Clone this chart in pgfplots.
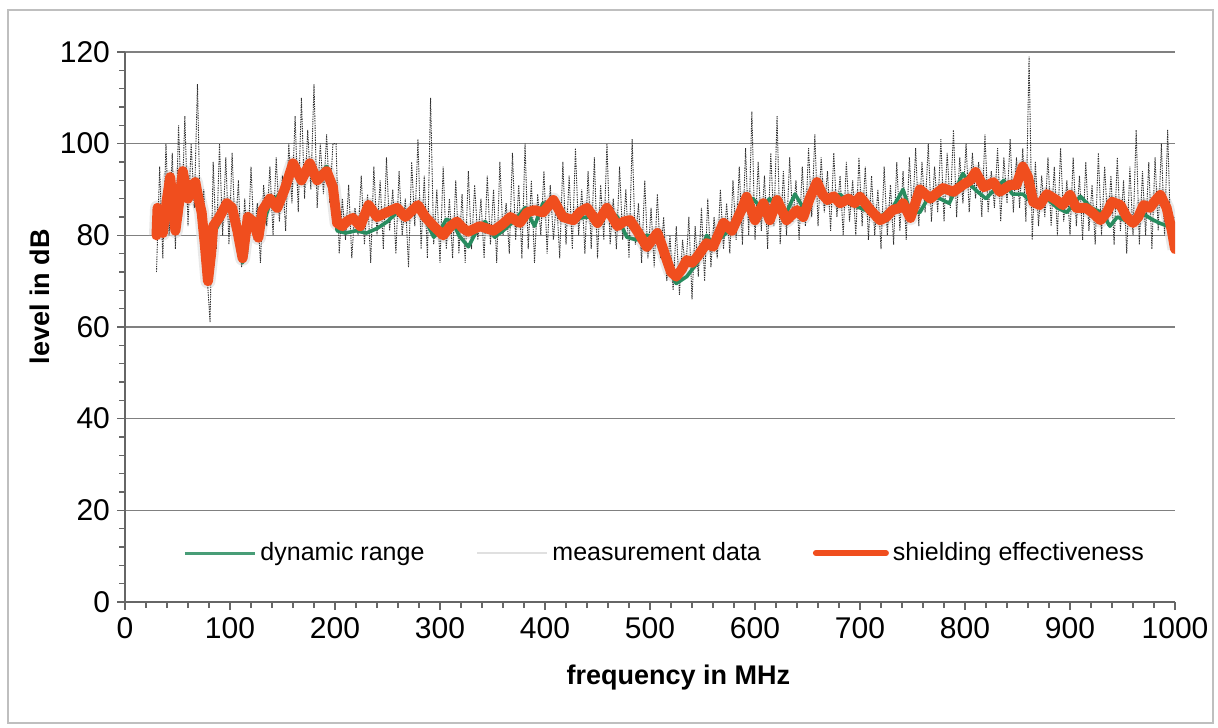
\documentclass[border=0pt]{standalone}
\usepackage{fontspec}
\setmainfont{Liberation Sans}
\usepackage{pgfplots}
\usepackage{pgfplotstable}
\pgfplotsset{compat=1.18}

\definecolor{seorange}{RGB}{240,78,30}
\definecolor{drgreen}{RGB}{40,140,95}

% shielding effectiveness (smoothed)
\pgfplotstableread[row sep=\\]{
x y\\
30 80\\ 31 86\\ 34 83\\ 36 80.5\\ 40 88\\ 43 92.7\\ 46 86\\ 48 81\\ 52 88\\ 55 94\\
60 88\\ 64 91\\ 67 91.6\\ 70 88\\ 73 85\\ 76 78\\ 79 70\\ 82 76\\ 84 82\\ 90 84\\
97 87\\ 102 86\\ 107 81\\ 112 75\\ 117 84\\ 122 83\\ 127 79.5\\ 131 85.5\\ 138 88\\ 145 86\\
152 90\\ 160 95.7\\ 168 92\\ 176 95.7\\ 183 92\\ 192 94\\ 198 90.5\\ 202 82.7\\ 207 82\\ 211 83\\
217 83.8\\ 224 82\\ 232 86.6\\ 240 84\\ 249 85\\ 259 86\\ 267 84\\ 279 86.6\\ 286 84\\ 294 82\\
303 80\\ 310 82\\ 316 83\\ 322 81.5\\ 327 80.8\\ 338 82\\ 351 81\\ 360 82.5\\ 367 84\\ 376 82.7\\
383 85\\ 390 85.5\\ 398 85\\ 408 87.7\\ 417 84\\ 427 83.3\\ 433 85\\ 440 86\\ 450 82.7\\ 459 86\\
469 82\\ 475 83\\ 481 83.3\\ 489 80.5\\ 497 77.5\\ 507 80.5\\ 511 78\\ 516 74.6\\ 520 72\\ 525 71\\
530 72.5\\ 535 74.6\\ 540 74\\ 545 75.3\\ 554 78.3\\ 560 77.5\\ 570 82.7\\ 578 81\\ 586 85\\ 592 88.4\\
600 83.3\\ 608 87\\ 614 83.3\\ 621 87.7\\ 630 83.3\\ 640 85.5\\ 646 84\\ 652 88\\ 659 91.6\\ 664 89\\
669 87.7\\ 675 88.5\\ 681 87\\ 689 88\\ 695 87\\ 700 88.4\\ 710 85.5\\ 719 83.3\\ 725 84\\ 731 85.5\\
738 86\\ 741 87\\ 748 83.8\\ 757 90\\ 767 88\\ 772 89\\ 779 90.3\\ 789 89.5\\ 798 91\\ 805 92\\
810 93.8\\ 818 90.5\\ 827 91.6\\ 833 89.5\\ 843 91\\ 849 91\\ 855 95\\ 860 92.7\\ 865 87.3\\ 871 86.6\\
878 89\\ 887 87.7\\ 893 86.6\\ 900 88.8\\ 906 86\\ 915 86\\ 921 85\\ 929 83.3\\ 935 85\\ 940 87.3\\
948 86.6\\ 954 84\\ 960 82.7\\ 965 84\\ 970 86.6\\ 976 86\\ 981 87.5\\ 986 88.8\\ 992 86\\ 997 81\\
1000 77\\
}\seData

% dynamic range
\pgfplotstableread[row sep=\\]{
x y\\
30 80\\ 34 84\\ 40 87\\ 45 86\\ 50 88\\ 55 92\\ 60 88\\ 67 90\\ 73 85\\ 79 71\\
84 80\\ 97 86\\ 102 85\\ 112 74\\ 117 83\\ 127 79\\ 138 87\\ 152 90\\ 160 94\\ 168 93\\
176 96\\ 183 93\\ 192 95\\ 198 92\\ 202 81\\ 210 80.5\\ 220 81\\ 230 80.5\\ 240 81.5\\ 250 83\\
259 85\\ 267 84\\ 279 86\\ 286 83.5\\ 294 79.6\\ 300 81\\ 306 83.5\\ 312 83\\ 318 80\\ 327 77.5\\
335 81\\ 343 83\\ 352 79.6\\ 360 81\\ 370 83\\ 381 86\\ 390 82\\ 398 87\\ 408 87\\ 417 85\\
427 83.5\\ 440 84\\ 450 84\\ 459 86\\ 469 84\\ 478 79.6\\ 487 79\\ 497 80\\ 507 79.5\\ 516 73\\
525 69.5\\ 535 71\\ 545 74\\ 554 80\\ 560 78\\ 570 80\\ 578 81.5\\ 586 84\\ 592 86\\ 598 88\\
606 86\\ 614 88\\ 621 86\\ 630 85\\ 638 89\\ 646 86\\ 659 90\\ 669 87\\ 681 89\\ 689 87\\
700 86\\ 710 85\\ 719 84\\ 731 86\\ 741 90\\ 748 85\\ 757 85\\ 767 89\\ 776 88\\ 785 87\\
798 93.5\\ 805 91\\ 812 89.5\\ 820 88\\ 828 90\\ 837 92\\ 845 89\\ 855 89\\ 865 87\\ 878 88\\
888 86\\ 897 85\\ 904 87\\ 910 88.5\\ 920 86\\ 930 85\\ 938 82\\ 945 84\\ 955 83\\ 965 84\\
971 84.5\\ 978 83.5\\ 985 82.7\\ 993 82\\ 997 81.5\\
}\drData

% measurement data (raw)
\pgfplotstableread[row sep=\\]{
x y\\
30 72\\ 33 95\\ 36 75\\ 39 100\\ 42 80\\ 45 98\\ 48 77\\ 51 104\\ 54 84\\ 57 106\\
60 82\\ 63 100\\ 66 86\\ 69 113\\ 72 80\\ 75 90\\ 78 72\\ 81 61\\ 84 96\\ 87 77\\
90 100\\ 93 80\\ 96 97\\ 99 78\\ 102 98\\ 105 80\\ 108 92\\ 111 73\\ 114 88\\ 117 76\\
120 95\\ 123 79\\ 126 87\\ 129 74\\ 132 91\\ 135 82\\ 138 95\\ 141 80\\ 144 97\\ 147 83\\
150 93\\ 153 81\\ 156 100\\ 159 87\\ 162 106\\ 165 85\\ 168 110\\ 171 88\\ 174 103\\ 177 90\\
180 113\\ 183 86\\ 186 100\\ 189 89\\ 192 102\\ 195 87\\ 198 100\\ 201 100\\ 204 76\\ 207 88\\
210 79\\ 213 91\\ 216 75\\ 219 86\\ 222 80\\ 225 93\\ 228 78\\ 231 89\\ 234 74\\ 237 95\\
240 80\\ 243 92\\ 246 77\\ 249 97\\ 252 81\\ 255 90\\ 258 76\\ 261 94\\ 264 80\\ 267 88\\
270 73\\ 273 96\\ 276 82\\ 279 101\\ 282 77\\ 285 93\\ 288 75\\ 291 110\\ 294 78\\ 297 90\\
300 74\\ 303 95\\ 306 77\\ 309 88\\ 312 75\\ 315 92\\ 318 76\\ 321 89\\ 324 74\\ 327 94\\
330 77\\ 333 91\\ 336 79\\ 339 88\\ 342 75\\ 345 93\\ 348 78\\ 351 90\\ 354 74\\ 357 96\\
360 80\\ 363 87\\ 366 76\\ 369 98\\ 372 79\\ 375 91\\ 378 75\\ 381 100\\ 384 77\\ 387 92\\
390 74\\ 393 89\\ 396 80\\ 399 94\\ 402 76\\ 405 91\\ 408 79\\ 411 88\\ 414 75\\ 417 96\\
420 78\\ 423 93\\ 426 77\\ 429 99\\ 432 80\\ 435 90\\ 438 76\\ 441 94\\ 444 77\\ 447 97\\
450 75\\ 453 91\\ 456 79\\ 459 100\\ 462 78\\ 465 88\\ 468 77\\ 471 95\\ 474 79\\ 477 90\\
480 75\\ 483 101\\ 486 78\\ 489 87\\ 492 74\\ 495 92\\ 498 75\\ 501 86\\ 504 73\\ 507 89\\
510 75\\ 513 84\\ 516 70\\ 519 80\\ 522 68\\ 525 82\\ 528 67\\ 531 79\\ 534 72\\ 537 84\\
540 66\\ 543 82\\ 546 71\\ 549 86\\ 552 70\\ 555 88\\ 558 73\\ 561 84\\ 564 75\\ 567 90\\
570 77\\ 573 87\\ 576 76\\ 579 92\\ 582 79\\ 585 95\\ 588 78\\ 591 99\\ 594 80\\ 597 107\\
600 79\\ 603 96\\ 606 81\\ 609 93\\ 612 77\\ 615 98\\ 618 82\\ 621 106\\ 624 78\\ 627 94\\
630 80\\ 633 97\\ 636 83\\ 639 92\\ 642 79\\ 645 95\\ 648 82\\ 651 99\\ 654 84\\ 657 102\\
660 82\\ 663 97\\ 666 85\\ 669 94\\ 672 81\\ 675 98\\ 678 84\\ 681 93\\ 684 80\\ 687 96\\
690 83\\ 693 92\\ 696 80\\ 699 97\\ 702 82\\ 705 95\\ 708 79\\ 711 93\\ 714 80\\ 717 90\\
720 77\\ 723 95\\ 726 80\\ 729 91\\ 732 78\\ 735 96\\ 738 81\\ 741 94\\ 744 79\\ 747 97\\
750 84\\ 753 99\\ 756 82\\ 759 96\\ 762 85\\ 765 100\\ 768 83\\ 771 95\\ 774 85\\ 777 101\\
780 83\\ 783 98\\ 786 86\\ 789 103\\ 792 84\\ 795 97\\ 798 87\\ 801 100\\ 804 85\\ 807 98\\
810 88\\ 813 96\\ 816 84\\ 819 102\\ 822 85\\ 825 94\\ 828 86\\ 831 99\\ 834 83\\ 837 97\\
840 87\\ 843 101\\ 846 85\\ 849 97\\ 852 86\\ 855 99\\ 858 83\\ 861 119\\ 864 79\\ 867 96\\
870 82\\ 873 93\\ 876 84\\ 879 97\\ 882 82\\ 885 95\\ 888 80\\ 891 99\\ 894 83\\ 897 92\\
900 80\\ 903 97\\ 906 82\\ 909 93\\ 912 79\\ 915 96\\ 918 81\\ 921 91\\ 924 78\\ 927 98\\
930 80\\ 933 95\\ 936 82\\ 939 93\\ 942 78\\ 945 97\\ 948 81\\ 951 92\\ 954 76\\ 957 95\\
960 80\\ 963 103\\ 966 78\\ 969 94\\ 972 80\\ 975 96\\ 978 77\\ 981 97\\ 984 81\\ 987 100\\
990 80\\ 993 103\\ 996 78\\ 999 84\\
}\measData

\begin{document}
\begin{tikzpicture}
\useasboundingbox (0,0) rectangle (609pt,363.5pt);
\draw[black!25, line width=0.6pt] (4pt,2pt) rectangle (606.5pt,358.5pt);
\begin{axis}[
  at={(62.5pt,62.5pt)}, anchor=south west,
  scale only axis, width=525pt, height=275pt,
  xmin=0, xmax=1000, ymin=0, ymax=120,
  xtick={0,100,...,1000}, ytick={0,20,...,120},
  minor x tick num=4, minor y tick num=4,
  axis x line*=bottom, axis y line*=left,
  axis line style={black!60, line width=0.8pt, -},
  tick style={black!60, line width=0.6pt},
  tick align=outside,
  major tick length=4pt, minor tick length=3pt,
  ymajorgrids, major grid style={black!50, line width=0.8pt},
  tick label style={font=\fontsize{15}{17}\selectfont},
  /pgf/number format/assume math mode=true,
  /pgf/number format/1000 sep={},
  xlabel={frequency in MHz},
  xlabel style={at={(axis description cs:0.527,-0.138)}, anchor=center,
    font=\bfseries\fontsize{13.5}{16}\selectfont},
  ylabel={level in dB},
  ylabel style={at={(axis description cs:-0.081,0.555)}, anchor=center,
    font=\bfseries\fontsize{13.5}{16}\selectfont},
  legend columns=3,
  legend style={at={(axis description cs:0.515,0.089)}, anchor=center,
    draw=none, fill=none, font=\fontsize{12.5}{15}\selectfont,
    /tikz/every even column/.append style={column sep=24pt}},
  legend image code/.code={\draw[#1] (0pt,0pt) -- (35pt,0pt);},
]
\addplot[black!12, line width=7.5pt, opacity=0.7, line join=round, forget plot] table {\seData};
\addplot[black!80, line width=0.45pt, dash pattern=on 0.7pt off 0.5pt, forget plot] table {\measData};
\addplot[drgreen, line width=1.8pt, line join=round, forget plot] table {\drData};
\addplot[seorange, line width=5pt, line join=round, line cap=round, forget plot] table {\seData};

\addlegendimage{drgreen!85!white, line width=1.5pt}
\addlegendentry{dynamic range}
\addlegendimage{black!12, line width=1pt}
\addlegendentry{measurement data}
\addlegendimage{seorange, line width=3pt, line cap=round}
\addlegendentry{shielding effectiveness}
\end{axis}
\end{tikzpicture}
\end{document}
